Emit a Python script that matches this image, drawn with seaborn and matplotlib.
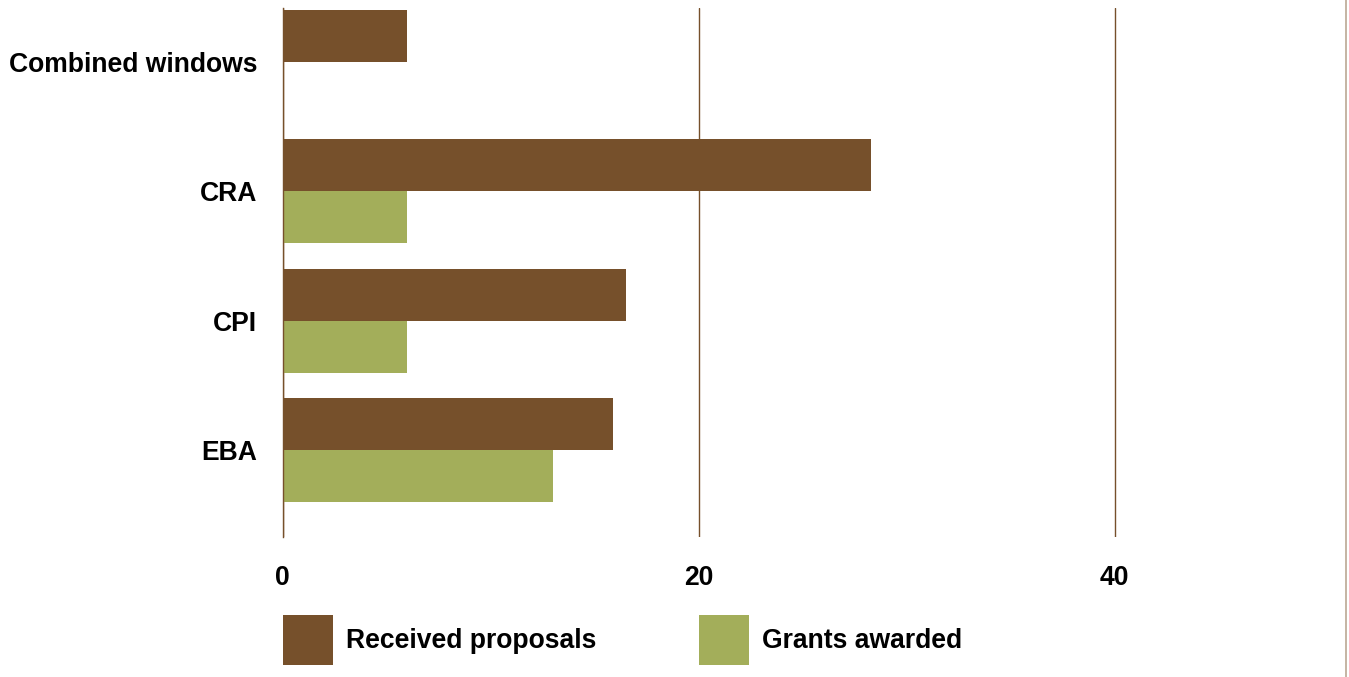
import matplotlib
matplotlib.use("Agg")
import matplotlib.pyplot as plt
from matplotlib.lines import Line2D
import pandas as pd
import seaborn as sns

# Proposals received and grants awarded per funding window
windows = ["Combined windows", "CRA", "CPI", "EBA"]
received = [6, 28.3, 16.5, 15.9]
awarded = [0, 6, 6, 13]
series_names = ["Received proposals", "Grants awarded"]
x_ticks = [0, 20, 40]

BROWN = "#76502B"
GREEN = "#A3AE5A"
EDGE = "#BBA894"
FS = 19.1

df = pd.DataFrame({
    "window": windows * 2,
    "series": [series_names[0]] * len(windows) + [series_names[1]] * len(windows),
    "count": received + awarded,
})

sns.set_style("white")
plt.rcParams["font.family"] = ["Liberation Sans", "DejaVu Sans"]
plt.rcParams["font.weight"] = "bold"
plt.rcParams["text.color"] = "black"
plt.rcParams["xtick.color"] = "black"
plt.rcParams["ytick.color"] = "black"

fig = plt.figure(figsize=(13.49, 6.77), dpi=100)
ax = fig.add_axes([282.5 / 1349, 140 / 677, 1040 / 1349, 529 / 677])

sns.barplot(
    data=df, y="window", x="count", hue="series", order=windows,
    hue_order=series_names, palette=[BROWN, GREEN], orient="h",
    width=0.8, saturation=1, dodge=True, ax=ax, linewidth=0,
)

ax.set_xlim(0, 50)
ax.set_ylim(3.67, -0.415)
ax.set_xticks(x_ticks)
ax.set_xticklabels([str(t) for t in x_ticks])
ax.set_xlabel("")
ax.set_ylabel("")
ax.set_axisbelow(True)
ax.grid(axis="x", color=BROWN, linewidth=1.0)
ax.grid(axis="y", visible=False)
for side in ["top", "right", "bottom"]:
    ax.spines[side].set_visible(False)
ax.spines["left"].set_color(BROWN)
ax.spines["left"].set_linewidth(1.0)
ax.tick_params(axis="x", length=0, pad=20, labelsize=FS, labelcolor="black")
ax.tick_params(axis="y", length=0, pad=18, labelsize=FS, labelcolor="black")
for lab in ax.get_xticklabels() + ax.get_yticklabels():
    lab.set_fontweight("bold")

sns.move_legend(
    ax, "upper left", bbox_to_anchor=(283 / 1349, 62 / 677),
    bbox_transform=fig.transFigure, ncol=2, title=None, frameon=False,
    borderpad=0, borderaxespad=0, handlelength=1.88, handleheight=2.55,
    handletextpad=0.5, columnspacing=3.85, fontsize=FS,
)
for t in ax.get_legend().get_texts():
    t.set_fontweight("bold")
    t.set_color("black")

# thin rule along the right edge of the figure
fig.add_artist(Line2D([1345.5 / 1349, 1345.5 / 1349], [0, 1],
                      transform=fig.transFigure, color=EDGE, linewidth=1.2))

fig.savefig("out.png", dpi=100)
